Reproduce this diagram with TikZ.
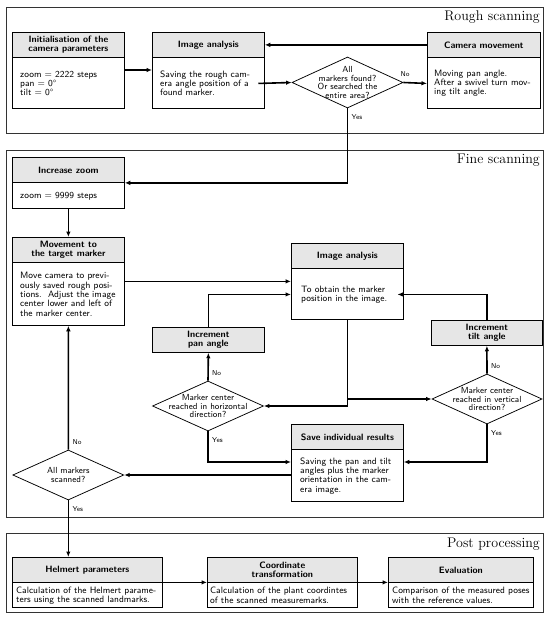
\documentclass[tikz,border=0pt]{standalone}
\usepackage{fontspec}
\usetikzlibrary{shapes.geometric,calc,arrows.meta}
\definecolor{hdr}{HTML}{E6E6E6}
\newcommand\bodyfont{\sffamily\fontsize{9.2}{9.3}\selectfont}
\newcommand\headfont{\sffamily\bfseries\fontsize{9.2}{9.5}\selectfont}
\newcommand\diafont{\sffamily\fontsize{8.8}{8.4}\selectfont}
\tikzset{
  sect/.style={draw=black!80, line width=0.9pt, inner sep=0pt},
  ttl/.style={font=\rmfamily\fontsize{14}{15}\selectfont, inner sep=0pt},
  boxframe/.style={draw, line width=0.75pt, inner sep=0pt},
  boxhead/.style={draw, fill=hdr, line width=0.75pt, minimum height=25pt, inner sep=2pt, align=center, font=\headfont},
  boxbody/.style={inner ysep=0pt, align=left, font=\bodyfont},
  dia/.style={draw, diamond, line width=0.75pt, inner sep=0pt},
  diatext/.style={align=center, font=\diafont, inner sep=0pt},
  arr/.style={-{Latex[length=5.5pt,width=4.5pt]}, line width=1.6pt},
  lbl/.style={font=\sffamily\fontsize{7}{8}\selectfont, inner sep=1pt},
}
% name, x, y, width, height, header, body, xsep
\newcommand\mkbox[8]{%
  \pgfmathsetmacro\mybh{#5-25}%
  \node[boxframe, minimum width=#4pt, minimum height=#5pt, anchor=north west] (#1) at (#2,#3) {};
  \node[boxhead, minimum width=#4pt, anchor=north west] (#1-h) at (#1.north west) {#6};
  \node[boxbody, minimum height=\mybh pt, inner xsep=#8pt, anchor=north west] (#1-b) at (#1-h.south west) {#7};
}
\begin{document}
\begin{tikzpicture}[x=1pt, y=-1pt]
\useasboundingbox (0,0) rectangle (550,620);

% section frames
\node[sect, minimum width=537pt, minimum height=126pt, anchor=north west] (rough) at (6,7) {};
\node[ttl, anchor=base east] (rought) at (540,21) {Rough scanning};
\node[sect, minimum width=537pt, minimum height=367pt, anchor=north west] (fine) at (6,150) {};
\node[ttl, anchor=base east] (finet) at (540,164) {Fine scanning};
\node[sect, minimum width=537pt, minimum height=79pt, anchor=north west] (post) at (6,533) {};
\node[ttl, anchor=base east] (postt) at (540,547) {Post processing};

% rough scanning
\mkbox{init}{12}{32}{112}{76}{Initialisation of the\\camera parameters}{zoom = 2222 steps\\pan = 0°\\tilt = 0°}{8}
\mkbox{ia1}{152}{32}{112}{76}{Image analysis}{Saving the rough cam-\\era angle position of a\\found marker.}{8}
\mkbox{cam}{427}{32}{113}{76}{Camera movement}{Moving pan angle.\\After a swivel turn mov-\\ing tilt angle.}{7}
\node[dia, minimum width=111pt, minimum height=51pt] (d1) at (347.5,82.5) {};
\node[diatext] (d1t) at (d1) {All\\markers found?\\Or searched the\\entire area?};

% fine scanning
\mkbox{zoom}{12}{157}{112}{51}{Increase zoom}{zoom = 9999 steps}{8}
\mkbox{move}{12}{237}{112}{88}{Movement to\\the target marker}{Move camera to previ-\\ously saved rough posi-\\tions.\ \ Adjust the image\\center lower and left of\\the marker center.}{8}
\mkbox{ia2}{291}{243}{112}{76}{Image analysis}{To obtain the marker\\position in the image.}{10}
\node[boxhead, minimum width=112pt, anchor=north west] (pan) at (152,327) {Increment\\pan angle};
\node[boxhead, minimum width=111pt, anchor=north west] (tilt) at (431,320) {Increment\\tilt angle};
\mkbox{save}{291}{424}{112}{77}{Save individual results}{Saving the pan and tilt\\angles plus the marker\\orientation in the cam-\\era image.}{9}
\node[dia, minimum width=111pt, minimum height=50pt] (dh) at (208,406) {};
\node[diatext] (dht) at (dh) {Marker center\\reached in horizontal\\direction?};
\node[dia, minimum width=110pt, minimum height=50pt] (dv) at (487,399) {};
\node[diatext] (dvt) at (dv) {Marker center\\reached in vertical\\direction?};
\node[dia, minimum width=111pt, minimum height=50pt] (dall) at (68.3,475) {};
\node[diatext] (dallt) at (dall) {All markers\\scanned?};

% post processing
\mkbox{helm}{12}{557}{150}{50}{Helmert parameters}{Calculation of the Helmert parame-\\ters using the scanned landmarks.}{4}
\mkbox{coord}{207}{557}{150}{50}{Coordinate\\transformation}{Calculation of the plant coordintes\\of the scanned measuremarks.}{3}
\mkbox{eval}{388}{557}{145}{50}{Evaluation}{Comparison of the measured poses\\with the reference values.}{4}

% connectors: rough
\draw[arr] ($(init.north east)+(0,38)$) -- ($(ia1.north west)+(0,38)$);
\draw[arr] (cam-h.west) -- (ia1-h.east);
\draw[arr] (ia1-b.east) -- (d1.west);
\draw[arr] (d1.east) -- (cam-b.west);
\node[lbl, anchor=south west] (d1no) at ($(d1.east)+(-4,-5)$) {No};
\draw[arr] (d1.south) |- (zoom.east);
\node[lbl, anchor=north west] (d1yes) at ($(d1.south)+(3,5)$) {Yes};

% connectors: fine
\draw[arr] (zoom.south) -- (move.north);
\draw[arr] (move.east) -- (move.east -| ia2.west);
\draw[arr] (pan.north) |- (ia2-b.west);
\draw[arr] (tilt.north) |- (ia2-b.east);
\draw[arr] (ia2.south) |- (dh.east);
\draw[arr] (ia2.south |- dv.west) -- (dv.west);
\draw[arr] (dh.north) -- (pan.south);
\node[lbl, anchor=south west] (dhno) at ($(dh.north)+(3,-4)$) {No};
\draw[arr] (dh.south) |- ($(save.north west)+(0,38)$);
\node[lbl, anchor=north west] (dhyes) at ($(dh.south)+(3,5)$) {Yes};
\draw[arr] (dv.north) -- (tilt.south);
\node[lbl, anchor=south west] (dvno) at ($(dv.north)+(3,-4)$) {No};
\draw[arr] (dv.south) |- ($(save.north east)+(0,38)$);
\node[lbl, anchor=north west] (dvyes) at ($(dv.south)+(3,5)$) {Yes};
\draw[arr] (save.west |- dall.east) -- (dall.east);
\draw[arr] (dall.north) -- (move.south);
\node[lbl, anchor=south west] (dallno) at ($(dall.north)+(3,-4)$) {No};
\draw[arr] (dall.south) -- (dall.south |- helm.north);
\node[lbl, anchor=north west] (dallyes) at ($(dall.south)+(3,5)$) {Yes};

% connectors: post
\draw[arr] (helm.east) -- (coord.west);
\draw[arr] (coord.east) -- (eval.west);
\end{tikzpicture}
\end{document}
